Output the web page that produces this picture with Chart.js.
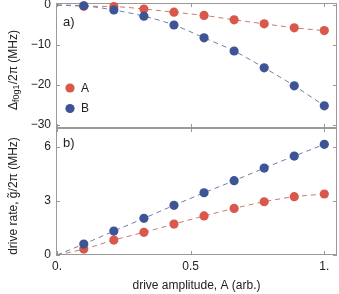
<!DOCTYPE html>
<html>
<head>
<meta charset="utf-8">
<script src="https://cdn.jsdelivr.net/npm/chart.js@4/dist/chart.umd.min.js"></script>
<style>
  html, body { margin: 0; padding: 0; background: #fff; }
  #wrap { position: relative; width: 339px; height: 294px; }
  canvas { position: absolute; left: 0; top: 0; }
</style>
</head>
<body>
<div id="wrap">
  <canvas id="shiftChart" width="339" height="294"></canvas>
  <canvas id="rateChart" width="339" height="294"></canvas>
</div>
<script>
// drive amplitudes (arb.)
const amps = [0.1, 0.2125, 0.325, 0.4375, 0.55, 0.6625, 0.775, 0.8875, 1.0];

// a) frequency shift, MHz
const shiftA = [-0.3, -0.4, -1.0, -1.8, -2.6, -3.7, -4.7, -5.7, -6.4];
const shiftB = [-0.2, -1.25, -2.8, -5.0, -8.2, -11.5, -15.7, -20.2, -25.2];

// b) drive rate, MHz
const rateA = [0.33, 0.83, 1.26, 1.72, 2.17, 2.59, 2.96, 3.24, 3.39];
const rateB = [0.61, 1.33, 2.04, 2.76, 3.46, 4.13, 4.83, 5.5, 6.15];

const xTicks = [0, 0.5, 1];
const shiftTicks = [0, -10, -20, -30];
const rateTicks = [0, 3, 6];
const seriesNames = ['A', 'B'];

const RED = '#d9584b';
const BLUE = '#3d5495';
const RED_LINE = '#c77a72';
const BLUE_LINE = '#6f7ea8';
const FRAME = '#9a9a9a';
const FONT = "'Liberation Sans', Arial, sans-serif";

Chart.defaults.font.family = FONT;
Chart.defaults.font.size = 12;
Chart.defaults.color = '#222';

function pts(ys, withOrigin) {
  const out = ys.map((y, i) => ({ x: amps[i], y: y }));
  if (withOrigin) out.unshift({ x: 0, y: 0 });
  return out;
}

function datasets(a, b) {
  return [
    { data: pts(b), backgroundColor: BLUE, borderWidth: 0, pointRadius: 4.6, showLine: false, clip: false, order: 0 },
    { data: pts(a), backgroundColor: RED, borderWidth: 0, pointRadius: 4.6, showLine: false, clip: false, order: 1 },
    { data: pts(b, true), borderColor: BLUE_LINE, borderWidth: 1, borderDash: [5, 4], pointRadius: 0,
      showLine: true, cubicInterpolationMode: 'monotone', order: 2 },
    { data: pts(a, true), borderColor: RED_LINE, borderWidth: 1, borderDash: [5, 4], pointRadius: 0,
      showLine: true, cubicInterpolationMode: 'monotone', order: 3 }
  ];
}

const minus = v => String(v).replace('-', '\u2212');

// no extra room for overflowing tick labels, the plot box is fixed
function noPad(s) {
  s.paddingTop = 0; s.paddingBottom = 0; s.paddingLeft = 0; s.paddingRight = 0;
}

// frame with inward ticks, like the original plot
const framePlugin = {
  id: 'frame',
  beforeDatasetsDraw(chart, args, opts) {
    const { ctx, chartArea: ca, scales } = chart;
    ctx.save();
    ctx.strokeStyle = FRAME;
    ctx.lineWidth = 1;
    ctx.strokeRect(ca.left + 0.5, ca.top + 0.5, ca.right - ca.left - 1, ca.bottom - ca.top - 1);
    ctx.beginPath();
    xTicks.forEach(v => {
      const px = Math.round(scales.x.getPixelForValue(v)) + 0.5;
      ctx.moveTo(px, ca.top); ctx.lineTo(px, ca.top + 4);
      ctx.moveTo(px, ca.bottom); ctx.lineTo(px, ca.bottom - 4);
    });
    opts.yTicks.forEach(v => {
      const py = Math.round(scales.y.getPixelForValue(v)) + 0.5;
      ctx.moveTo(ca.left, py); ctx.lineTo(ca.left + 4, py);
      ctx.moveTo(ca.right, py); ctx.lineTo(ca.right - 4, py);
    });
    ctx.stroke();
    ctx.restore();
  },
  afterDraw(chart, args, opts) {
    const { ctx, chartArea: ca } = chart;
    ctx.save();
    ctx.fillStyle = '#222';
    ctx.textBaseline = 'middle';
    ctx.font = '13px ' + FONT;
    ctx.fillText(opts.panel, ca.left + 7, ca.top + opts.panelDy);

    // rotated y title, with optional subscript
    ctx.translate(14, opts.titleY);
    ctx.rotate(-Math.PI / 2);
    const parts = opts.title;
    let w = 0;
    parts.forEach(p => { ctx.font = (p.sub ? '9px ' : '12px ') + FONT; w += ctx.measureText(p.t).width; });
    let x = -w / 2;
    parts.forEach(p => {
      ctx.font = (p.sub ? '9px ' : '12px ') + FONT;
      ctx.fillText(p.t, x, p.sub ? 3 : 0);
      x += ctx.measureText(p.t).width;
    });
    ctx.restore();

    if (opts.legend) {
      ctx.save();
      ctx.font = '12px ' + FONT;
      ctx.textBaseline = 'middle';
      [RED, BLUE].forEach((c, i) => {
        const y = 88 + i * 20.5;
        ctx.fillStyle = c;
        ctx.beginPath(); ctx.arc(70, y, 4.6, 0, Math.PI * 2); ctx.fill();
        ctx.fillStyle = '#222';
        ctx.fillText(seriesNames[i], 81, y + 0.5);
      });
      ctx.restore();
    }
  }
};

const xScaleBase = {
  type: 'linear', min: -0.004, max: 1.0475,
  grid: { display: false, drawTicks: false }, border: { display: false },
  afterBuildTicks: s => { s.ticks = xTicks.map(v => ({ value: v })); }
};

new Chart(document.getElementById('shiftChart'), {
  type: 'scatter',
  data: { datasets: datasets(shiftA, shiftB) },
  plugins: [framePlugin],
  options: {
    responsive: false, animation: false, devicePixelRatio: 1,
    layout: { autoPadding: false, padding: { left: 0, right: 2, top: 3, bottom: 166 } },
    scales: {
      x: Object.assign({}, xScaleBase, { display: false, afterFit: noPad }),
      y: {
        min: -30.75, max: 0.5,
        grid: { display: false, drawTicks: false }, border: { display: false },
        afterBuildTicks: s => { s.ticks = shiftTicks.map(v => ({ value: v })); },
        afterFit: s => { s.width = 56; noPad(s); },
        ticks: { padding: 5, callback: v => minus(v) }
      }
    },
    plugins: {
      legend: { display: false }, tooltip: { enabled: false },
      frame: {
        yTicks: shiftTicks, panel: 'a)', panelDy: 19, legend: true, titleY: 70,
        title: [{ t: '\u0394' }, { t: 'f0g1', sub: true }, { t: '/2\u03c0 (MHz)' }]
      }
    }
  }
});

new Chart(document.getElementById('rateChart'), {
  type: 'scatter',
  data: { datasets: datasets(rateA, rateB) },
  plugins: [framePlugin],
  options: {
    responsive: false, animation: false, devicePixelRatio: 1,
    layout: { autoPadding: false, padding: { left: 0, right: 2, top: 128, bottom: 0 } },
    scales: {
      x: Object.assign({}, xScaleBase, {
        afterFit: s => { s.height = 39; noPad(s); },
        ticks: { padding: 4, callback: v => (v === 0 ? '0.' : v === 1 ? '1.' : String(v)) },
        title: { display: true, text: 'drive amplitude, A (arb.)', padding: { top: 0, bottom: 1 } }
      }),
      y: {
        min: 0, max: 7.06,
        grid: { display: false, drawTicks: false }, border: { display: false },
        afterBuildTicks: s => { s.ticks = rateTicks.map(v => ({ value: v })); },
        afterFit: s => { s.width = 56; noPad(s); },
        ticks: { padding: 5 }
      }
    },
    plugins: {
      legend: { display: false }, tooltip: { enabled: false },
      frame: {
        yTicks: rateTicks, panel: 'b)', panelDy: 15, legend: false, titleY: 196,
        title: [{ t: 'drive rate, g\u0303/2\u03c0 (MHz)' }]
      }
    }
  }
});
</script>
</body>
</html>
